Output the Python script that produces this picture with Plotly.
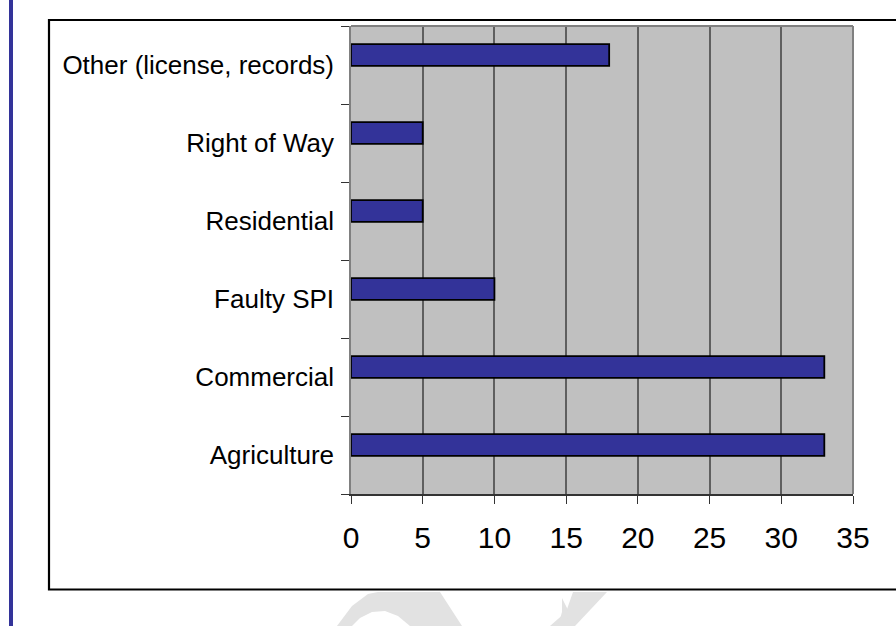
import plotly.graph_objects as go

categories = ["Agriculture", "Commercial", "Faulty SPI", "Residential", "Right of Way",
              "Other (license, records)"]
values = [33, 33, 10, 5, 5, 18]
x_ticks = [0, 5, 10, 15, 20, 25, 30, 35]

BAR = "#333399"
W, H = 896, 626
L, R, T, B = 351, 853, 26, 494

def px(x):
    return (x - L) / (R - L)

def py(y):
    return (B - y) / (B - T)

fig = go.Figure()
fig.add_trace(go.Bar(
    y=categories, x=values, orientation="h",
    marker=dict(color=BAR, line=dict(color="black", width=1.8)),
    width=0.28, offset=-0.012,
    hoverinfo="x+y",
))

shapes = [
    # outer frame
    dict(type="rect", xref="paper", yref="paper",
         x0=px(49), x1=px(905), y0=py(589.5), y1=py(20),
         line=dict(color="black", width=2.2), fillcolor="rgba(0,0,0,0)", layer="below"),
    # left blue rule
    dict(type="rect", xref="paper", yref="paper",
         x0=px(9), x1=px(13), y0=py(640), y1=py(-10),
         line=dict(width=0), fillcolor=BAR),
]

# faint watermark fragments at the bottom
def path(points):
    s = "M " + " L ".join(f"{px(a):.5f},{py(b):.5f}" for a, b in points) + " Z"
    return s

shapes.append(dict(type="path", xref="paper", yref="paper",
                   path=path([(337, 626), (352, 606), (368, 594), (378, 592), (440, 592),
                              (462, 626), (410, 626), (398, 616), (385, 611), (372, 612),
                              (360, 618), (352, 626)]),
                   line=dict(width=0), fillcolor="#e2e2e2"))
shapes.append(dict(type="path", xref="paper", yref="paper",
                   path=path([(573, 592), (607, 592), (575, 626), (550, 626), (566, 612)]),
                   line=dict(width=0), fillcolor="#e2e2e2"))
shapes.append(dict(type="path", xref="paper", yref="paper",
                   path=path([(562, 598), (568, 610), (567, 626), (558, 626), (562, 612)]),
                   line=dict(width=0), fillcolor="#e2e2e2"))

fig.update_layout(
    width=W, height=H,
    margin=dict(l=L, r=W - R, t=T, b=H - B, pad=0),
    paper_bgcolor="white",
    plot_bgcolor="#c0c0c0",
    showlegend=False,
    bargap=0.7,
    font=dict(family="Liberation Sans, Arial, sans-serif", color="black"),
    shapes=shapes,
    xaxis=dict(
        range=[0, 35], tickvals=x_ticks, ticktext=[str(v) for v in x_ticks],
        showgrid=True, gridcolor="#5f5f5f", gridwidth=1.5,
        ticks="outside", ticklen=8, tickcolor="#333333", tickwidth=1.2,
        showline=True, linecolor="#333333", linewidth=1.5,
        mirror=False, zeroline=False,
        tickfont=dict(size=30), ticklabelstandoff=8,
        fixedrange=True,
    ),
    yaxis=dict(
        type="category", categoryorder="array", categoryarray=categories,
        tickson="boundaries", ticks="outside", ticklen=8, tickcolor="#333333",
        tickwidth=1.2, showgrid=False,
        showline=True, linecolor="#808080", linewidth=1.5,
        tickfont=dict(size=26), ticklabelstandoff=10,
        fixedrange=True,
    ),
)

# top and right plot border
fig.add_shape(type="line", xref="paper", yref="paper", x0=0, x1=1, y0=1, y1=1,
              line=dict(color="#808080", width=2))
fig.add_shape(type="line", xref="paper", yref="paper", x0=1, x1=1, y0=0, y1=1,
              line=dict(color="#808080", width=2))

fig.write_html("out.html")
